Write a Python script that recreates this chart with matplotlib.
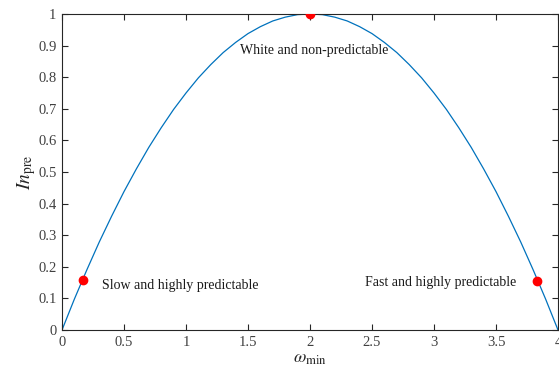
import matplotlib
matplotlib.use("Agg")
import matplotlib.pyplot as plt

plt.rcParams['font.family'] = ['Liberation Serif', 'DejaVu Serif']
plt.rcParams['mathtext.fontset'] = 'stix'

# curve
omega = [0.0, 0.1, 0.2, 0.3, 0.4, 0.5, 0.6, 0.7, 0.8, 0.9, 1.0,
         1.1, 1.2, 1.3, 1.4, 1.5, 1.6, 1.7, 1.8, 1.9, 2.0,
         2.1, 2.2, 2.3, 2.4, 2.5, 2.6, 2.7, 2.8, 2.9, 3.0,
         3.1, 3.2, 3.3, 3.4, 3.5, 3.6, 3.7, 3.8, 3.9, 4.0]
in_pre = [0.0, 0.098, 0.19, 0.278, 0.36, 0.438, 0.51, 0.578, 0.64, 0.698, 0.75,
          0.798, 0.84, 0.878, 0.91, 0.938, 0.96, 0.978, 0.99, 0.998, 1.0,
          0.998, 0.99, 0.978, 0.96, 0.938, 0.91, 0.878, 0.84, 0.798, 0.75,
          0.698, 0.64, 0.578, 0.51, 0.438, 0.36, 0.278, 0.19, 0.098, 0.0]

# highlighted points
pt_x = [0.17, 2.0, 3.83]
pt_y = [0.158, 1.0, 0.156]

labels = ["Slow and highly predictable", "White and non-predictable", "Fast and highly predictable"]
lab_x = [0.32, 2.03, 2.44]
lab_y = [0.140, 0.883, 0.150]
lab_ha = ['left', 'center', 'left']

xticks = [0, 0.5, 1, 1.5, 2, 2.5, 3, 3.5, 4]
xticklabels = ['0', '0.5', '1', '1.5', '2', '2.5', '3', '3.5', '4']
yticks = [0, 0.1, 0.2, 0.3, 0.4, 0.5, 0.6, 0.7, 0.8, 0.9, 1]
yticklabels = ['0', '0.1', '0.2', '0.3', '0.4', '0.5', '0.6', '0.7', '0.8', '0.9', '1']

fig = plt.figure(figsize=(5.59, 3.74), dpi=100)
ax = fig.add_axes([62/559, 1-330/374, (558-62)/559, (330-14)/374])

ax.plot(omega, in_pre, color='#0072BD', lw=0.9)
ax.plot(pt_x, pt_y, 'o', color='red', markersize=6, zorder=3)

for t, x, y, ha in zip(labels, lab_x, lab_y, lab_ha):
    ax.text(x, y, t, ha=ha, va='center', fontsize=10, color='#1a1a1a')

ax.set_xlim(0, 4)
ax.set_ylim(0, 1)
ax.set_xticks(xticks)
ax.set_xticklabels(xticklabels)
ax.set_yticks(yticks)
ax.set_yticklabels(yticklabels)
ax.tick_params(direction='in', length=4.5, width=0.8, top=True, right=True,
               labelsize=10.5, colors='#262626', labelcolor='#404040', pad=4)
for s in ax.spines.values():
    s.set_color('#262626')
    s.set_linewidth(0.8)

ax.set_xlabel(r'$\omega_{\mathrm{min}}$', fontsize=13, color='#262626', labelpad=1)
ax.set_ylabel(r'$In_{\mathrm{pre}}$', fontsize=14, color='#262626', labelpad=0)

fig.savefig('out.png', dpi=100)
